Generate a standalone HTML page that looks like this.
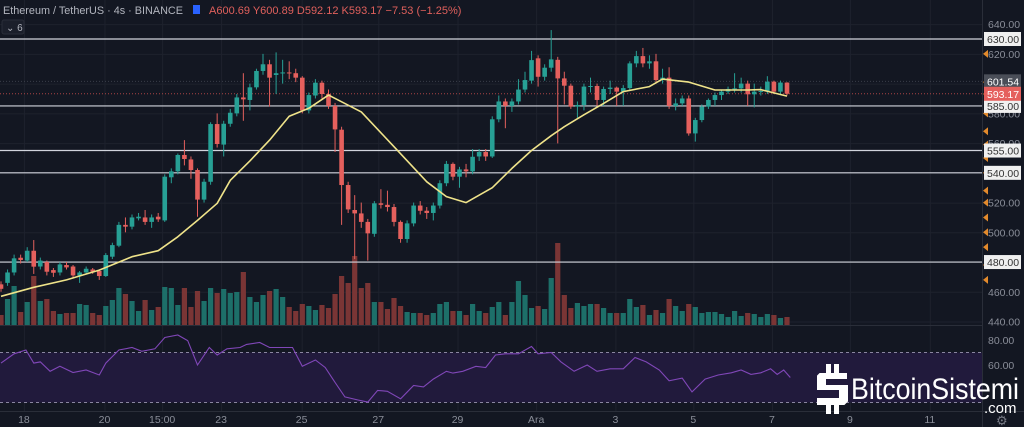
<!DOCTYPE html>
<html><head><meta charset="utf-8">
<style>
html,body{margin:0;padding:0;background:#131722;width:1024px;height:427px;overflow:hidden}
svg{display:block}
text{font-family:"Liberation Sans",sans-serif}
</style></head>
<body>
<svg id="chart" width="1024" height="427" viewBox="0 0 1024 427" xmlns="http://www.w3.org/2000/svg">
  <rect x="0" y="0" width="1024" height="427" fill="#131722"/>
  <g id="grid"></g>
  <rect x="0" y="352.5" width="982" height="50" fill="#211a3c"/>
  <line x1="0" x2="982" y1="352.5" y2="352.5" stroke="#8a86a0" stroke-dasharray="3,3" stroke-width="1"/>
  <line x1="0" x2="982" y1="402.5" y2="402.5" stroke="#8a86a0" stroke-dasharray="3,3" stroke-width="1"/>
  <g id="vols"></g>
  <g id="levels"></g>
  <g id="candles"></g>
  <g id="ma"></g>
  <g id="rsi"></g>
  <line x1="0" x2="982" y1="325.5" y2="325.5" stroke="#2a2e39" stroke-width="1"/>
  <line x1="0" x2="1024" y1="411.5" y2="411.5" stroke="#2a2e39" stroke-width="1"/>
  <line x1="982.5" x2="982.5" y1="0" y2="427" stroke="#2a2e39" stroke-width="1"/>
  <g id="axis"></g>
  <g id="xaxis"></g>

  <text x="3" y="14" font-size="11" fill="#b2b5be" textLength="180" lengthAdjust="spacingAndGlyphs">Ethereum / TetherUS · 4s · BINANCE</text>
  <rect x="193" y="5" width="7" height="9" fill="#2962ff"/>
  <text x="209" y="14" font-size="11" fill="#e0605c">A600.69  Y600.89  D592.12  K593.17  −7.53 (−1.25%)</text>
  <rect x="2" y="20" width="22" height="14" rx="2" fill="#1b1f2b" stroke="#2a2e39"/>
  <text x="6" y="31" font-size="10" fill="#b2b5be">⌄ 6</text>

  <g>
    <rect x="826" y="364" width="5" height="9" fill="#ffffff"/>
    <rect x="834" y="364" width="5" height="9" fill="#ffffff"/>
    <rect x="826" y="405" width="5" height="9" fill="#ffffff"/>
    <rect x="834" y="405" width="5" height="9" fill="#ffffff"/>
    <path d="M846 378 L846 374 L820 374 L818 376 L818 389 L840 389 L840 399 L818 399 L818 404 L844 404 L847 401 L847 386 L825 386 L825 378 Z" fill="#ffffff" stroke="#ffffff" stroke-width="2"/>
    <text x="851" y="399" font-size="30" fill="#ffffff" font-family="'Liberation Sans Narrow','Liberation Sans',sans-serif" textLength="168" lengthAdjust="spacingAndGlyphs">BitcoinSistemi</text>
    <text x="984" y="413" font-size="15" fill="#ffffff" font-family="'Liberation Sans Narrow','Liberation Sans',sans-serif">.com</text>
  </g>
  <text x="996" y="425" font-size="13" fill="#787b86">⚙</text>
</svg>
<script>
const opens  = [465,466,473,482.9,481,487.6,477,480,474.6,473,478,477,471,473,475,474,470.6,483.6,491,505,503.8,509.4,510,507,510.5,508,537,541,552,549,541.9,522,534,572.8,559,573,580,590.7,589,597.5,608.5,613,605.8,607,607.5,607,604,582,592,600.6,593,585,569,531.8,515,512.7,507,499,519.5,518.5,517,507,495.5,506,518,514.5,513,518,533,546,537.4,542.3,541,551,554,551,576,588,585,588,596,602,617,604.6,610.7,616,603.5,598.6,584.5,585.6,598,598.4,589,596.4,597.3,594.6,597,613.6,618.5,613.6,615,602.4,604,585,586.7,590,566.5,575.5,584.5,589,592.3,594.6,596.4,596.8,600,592.8,594.6,595,601.3,594.6,600.69];
const closes = [462,473,482.5,481.4,487.6,476.9,481,473.5,472.8,478.4,476.4,471,473,475.5,473.5,470.6,484.7,491.4,505,503.8,510,510.5,507,510,508.7,537.4,541,552,549.3,541.9,522,534,572.8,559.4,573,580.4,590.7,589.4,597.5,608.5,613,604,607,607.5,607,604,582,592.3,600.6,593,585,569.2,531.8,515.4,512.7,507,499.3,519.5,518.5,517,507,495.5,506,518,514.5,513,518,533,546,537.4,542.3,541,550.8,554,551,576,588,585,588,596,602.4,615.8,604.6,610.7,616.3,603.5,598.6,584.5,585.6,598,598.4,589,596.4,597.3,594.6,597,613.6,618.5,613.6,615,602.4,604,585,586.7,590,566.5,575.5,584.5,589,592.3,594.6,596.4,596.8,600,592.8,594.6,595,601.3,594.6,600.7,593.17];
const highs  = [467,475,485,485,490,494.8,483,481,476,480,480,478,474,477,476,475,486,493,507,510,512,513,515,512,513,539,543,553,562,551,543,536,574,580,575,583,593,607,600,610,620,616,621,616,615,610,605,594,603,602,596,587,571,534,525,520,509,521,529,528,519,508,508,520,521,517,520,535,548,547,544,546,556,556,556,578,592,590,590,603,608,622,619,613,636,618,608,600,588,600,604,600,598,602,598,599,615,622,624,619,620,610,611,590,592,592,577,586,590,594,596,598,607,604,602,600,598,605,602,602,600.89];
const lows   = [460,464,471,479,480,472,475,471,470,471,475,469,466,472,472,468,470,482,490,500,502,508,505,503,507,507,533,539,545,536,510.5,520,532,557,551,571,578,575,582,596,606,584.5,593,600,603,601,580,580,590,590,583,554,505,513,482,503,481,497,516,514,504,493,493,504,512,509,508,516,531,535,530,537,539,548,548,550,574,570,581,586,594,600,598,602,608,559.8,586,583,577,582,594,585,585,593,585,585,595,611,611,610,600,600,583,582,585,565,561,574,583,585,589,593,594,594,585,584,592,593,593,593,592.12];
const volumes = [10,26,39,13,23,49,24,26,14,11,12,12,21,20,12,10,19,25,37,31,24,14,25,15,18,38,37,20,37,18,34,24,37,32,36,32,33,53,28,23,30,34,36,28,18,14,21,19,15,20,17,31,49,42,69,37,42,23,23,16,27,19,13,12,12,10,12,21,23,14,14,10,21,14,12,18,23,10,23,44,30,17,19,16,47,82,30,17,22,19,21,21,17,12,12,12,26,18,20,10,15,12,26,19,14,21,18,12,13,13,11,8,14,9,12,11,8,11,10,7,8];
const maIdx = [0,5,10,15,20,24,27,30,33,35,38,41,44,47,50,55,60,65,68,71,75,78,81,84,86,89,92,95,99,101,105,109,114,116,120];
const maVal = [457,463,468,474.6,483.6,487.6,497,508,519.5,535,548,562,578,583.4,592.3,581,557.6,534,524,520,530,543,555,565,571,579,586.7,594.6,598,603,601,595.7,595.7,596,591.6];
const rsiIdx = [0,2,3.8,5,6,7.5,9,11,13,15,16,18,20,21.5,23.5,25,27,28.5,30,31.8,33,34.5,36.5,37.5,39.5,41,44.5,46,48,49.5,51,52.5,54.5,56,57.5,59,61,63,64.5,66,68,69,70.5,72.5,74,75.5,77,79,81,82,84,85.5,87.5,89.5,91,93,95,96.8,98.5,100.5,102,104,105.5,107.5,109.5,111.5,113,114.5,116,117.5,118.5,119.5,120.5];
const rsiVal = [61.5,69,72,61.5,62.5,55,59,54,56,52,61.5,72,74,71,73,82,84,79.5,60,74,68,73,74,76.5,78,74,74,59,64,58,46,34.5,32,30.3,39.7,39,33,43.6,42.5,48.7,55,53.5,55,59,58,68,69,69,74.8,69,70,62.5,55,60,55,57,57,66,62.5,56,47.4,49.5,38.5,48.7,52,53.8,56,52.5,53.8,57,52.5,56,50];
const priceTicks = [640,620,600,580,560,540,520,500,480,460,440];
const rsiTicks = [80,60];
const levelPrices = [630,585,555,540,480];
const markerPrices = [620,601,593,580,568,559,550,540,528,520,510,500,490,478,468];
const dateLabels = ["18","20","15:00","23","25","27","29","Ara","3","5","7","9","11"];
const dateIdx = [3.5,15.8,24.6,33.6,45.9,57.6,69.7,81.7,93.8,105.7,117.7,129.6,141.8];

const NS = "http://www.w3.org/2000/svg";
const PLOT_R = 982;
function xOf(i){ return 1 + i*6.55; }
function yP(p){ return 39 + (630-p)*1.487; }
function yR(v){ return 340 + (80-v)*1.25; }
function yV(v){ return 325 - v; }
function mk(tag, attrs, parent){
  const e = document.createElementNS(NS, tag);
  for (const k in attrs) e.setAttribute(k, attrs[k]);
  parent.appendChild(e);
  return e;
}
const grid = document.getElementById('grid');
priceTicks.forEach(p=>{
  const l = mk('line',{x1:0,x2:PLOT_R,y1:yP(p)+0.5,y2:yP(p)+0.5,stroke:'#1e222d','stroke-width':1},grid);
  
  
});
dateIdx.forEach(d=>{
  const l = mk('line',{x1:xOf(d)+0.5,x2:xOf(d)+0.5,y1:0,y2:411,stroke:'#1e222d','stroke-width':1},grid);
  
  
});

const vols = document.getElementById('vols');
volumes.forEach((v,i)=>{
  const up = closes[i] >= opens[i];
  const r = mk('rect',{x:xOf(i)-2.6,y:yV(v),width:5.2,height:v,fill: up ? '#1d6f69' : '#7a3535'},vols);
  
  
});

const levels = document.getElementById('levels');
levelPrices.forEach(p=>{
  const l = mk('line',{x1:0,x2:PLOT_R,y1:yP(p),y2:yP(p),stroke:'#d1d4dc','stroke-width':1.2},levels);
  
  
});
const cur = mk('line',{x1:0,x2:PLOT_R,y1:yP(593.17),y2:yP(593.17),stroke:'#a94444','stroke-width':1,'stroke-dasharray':'1,2'},levels);


const prev = mk('line',{x1:0,x2:PLOT_R,y1:yP(601.54),y2:yP(601.54),stroke:'#3a3e4a','stroke-width':1,'stroke-dasharray':'1,2'},levels);



const cg = document.getElementById('candles');
opens.forEach((o,i)=>{
  const c = closes[i], up = c >= o;
  const col = up ? '#27a095' : '#e5605d';
  const x = xOf(i);
  const w = mk('line',{x1:x,x2:x,y1:yP(highs[i]),y2:yP(lows[i]),stroke:col,'stroke-width':1},cg);
  
  
  const top = yP(Math.max(o,c)), bot = yP(Math.min(o,c));
  const b = mk('rect',{x:x-2.3,y:top,width:4.6,height:Math.max(1,bot-top),fill:col},cg);
  
  
});

const maG = document.getElementById('ma');
const maPts = maIdx.map((d,k)=>xOf(d).toFixed(1)+','+yP(maVal[k]).toFixed(1)).join(' ');
const maLine = mk('polyline',{points:maPts,fill:'none',stroke:'#efe38a','stroke-width':1.6,'stroke-linejoin':'round'},maG);



const rsiG = document.getElementById('rsi');
const rsiPts = rsiIdx.map((d,k)=>xOf(d).toFixed(1)+','+yR(rsiVal[k]).toFixed(1)).join(' ');
const rsiLine = mk('polyline',{points:rsiPts,fill:'none',stroke:'#8047b8','stroke-width':1.1},rsiG);



const axis = document.getElementById('axis');
markerPrices.forEach(p=>{
  const y = yP(p);
  const t = mk('polygon',{points:`983,${y} 988,${y-4} 988,${y+4}`,fill:'#e38a2c'},axis);
  
  
});
priceTicks.forEach(p=>{
  const t = mk('text',{x:988,y:yP(p)+4,'font-size':10.5,fill:'#8a8e99'},axis);
  t.textContent = p.toFixed(2);
  
  
});
rsiTicks.forEach(v=>{
  const t = mk('text',{x:988,y:yR(v)+4,'font-size':10.5,fill:'#8a8e99'},axis);
  t.textContent = v.toFixed(2);
  
  
});
function tag(p, bg, fg, name){
  const y = yP(p);
  const r = mk('rect',{x:984,y:y-7,width:37,height:14,fill:bg},axis);
  
  
  const t = mk('text',{x:987,y:y+4,'font-size':10.5,fill:fg},axis);
  t.textContent = p.toFixed(2);
  
  
}
levelPrices.forEach(p=>tag(p,'#f0f0f0','#333','level-price-label'));
tag(601.54,'#4a4e58','#ffffff','prev-close-label');
tag(593.17,'#e5605d','#ffffff','last-price-label');

const xa = document.getElementById('xaxis');
dateLabels.forEach((s,k)=>{
  const t = mk('text',{x:xOf(dateIdx[k]),y:423,'font-size':10.5,fill:'#8a8e99','text-anchor':'middle'},xa);
  t.textContent = s;
  
  
});
</script>
</body></html>
